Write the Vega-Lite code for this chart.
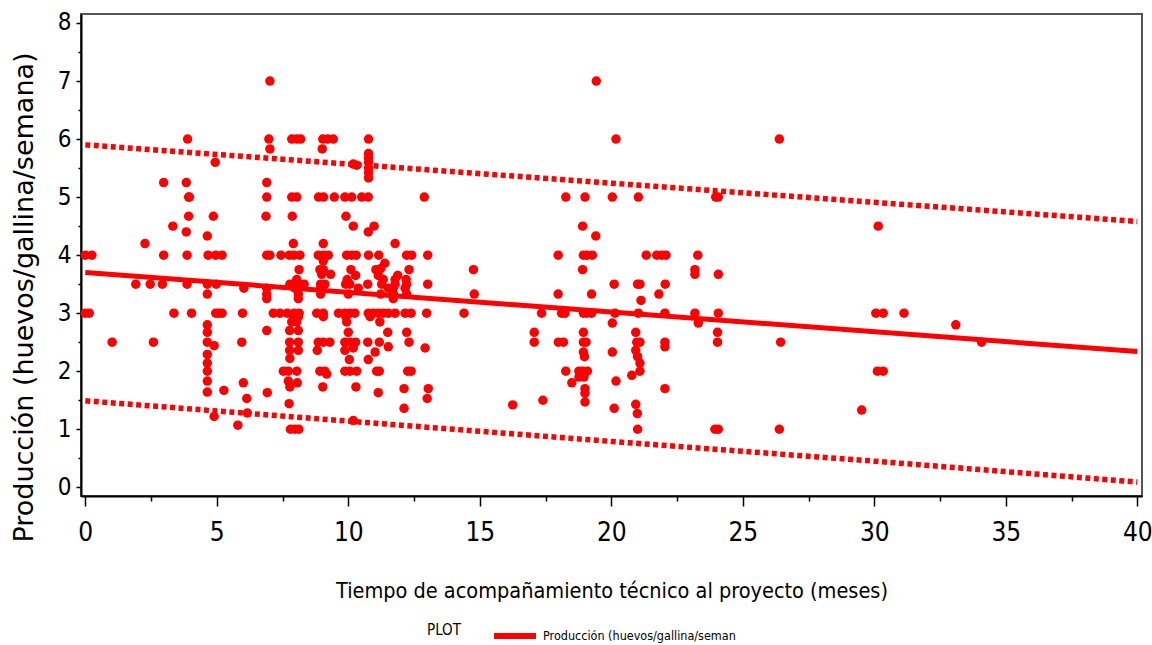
{
  "$schema": "https://vega.github.io/schema/vega-lite/v6.json",
  "autosize": "none",
  "width": 1061,
  "height": 482,
  "padding": {"left": 81, "top": 14, "right": 10, "bottom": 149},
  "background": "white",
  "config": {
    "view": {"stroke": "#555555", "strokeWidth": 2},
    "axis": {"labelColor": "#000", "titleColor": "#000", "tickColor": "#000", "domainColor": "#000", "grid": false}
  },
  "datasets": {
    "pts": [
      {"meses":0,"prod":4},{"meses":0.25,"prod":4},{"meses":0,"prod":3},{"meses":0.15,"prod":3},{"meses":1.02,"prod":2.5},{"meses":1.92,"prod":3.5},{"meses":2.27,"prod":4.2},{"meses":2.47,"prod":3.5},{"meses":2.59,"prod":2.5},{"meses":2.93,"prod":3.5},{"meses":2.98,"prod":5.25},{"meses":2.98,"prod":4},{"meses":3.33,"prod":4.5},{"meses":3.37,"prod":3},{"meses":3.84,"prod":5.25},{"meses":3.89,"prod":6},{"meses":3.93,"prod":5},{"meses":3.96,"prod":5},{"meses":3.93,"prod":4.67},{"meses":3.84,"prod":4.4},{"meses":3.87,"prod":4},{"meses":3.87,"prod":3.5},{"meses":4.04,"prod":3},{"meses":4.64,"prod":4.33},{"meses":4.67,"prod":4},{"meses":4.64,"prod":3.5},{"meses":4.64,"prod":3.33},{"meses":4.64,"prod":2.8},{"meses":4.64,"prod":2.67},{"meses":4.64,"prod":2.5},{"meses":4.64,"prod":2.29},{"meses":4.64,"prod":2.14},{"meses":4.64,"prod":2},{"meses":4.64,"prod":1.83},{"meses":4.64,"prod":1.64},{"meses":4.87,"prod":4.67},{"meses":4.9,"prod":2.44},{"meses":4.9,"prod":1.22},{"meses":4.94,"prod":5.6},{"meses":4.96,"prod":4},{"meses":4.98,"prod":3.5},{"meses":4.96,"prod":3},{"meses":5.07,"prod":3},{"meses":5.2,"prod":4},{"meses":5.2,"prod":3},{"meses":5.27,"prod":1.67},{"meses":5.8,"prod":1.07},
      {"meses":7.02,"prod":7},{"meses":6.98,"prod":6},{"meses":7.85,"prod":6},{"meses":8.04,"prod":6},{"meses":8.19,"prod":6},{"meses":9.03,"prod":6},{"meses":9.22,"prod":6},{"meses":9.43,"prod":6},{"meses":7.02,"prod":5.83},{"meses":9.01,"prod":5.83},{"meses":6.9,"prod":5.25},{"meses":6.9,"prod":5},{"meses":7.85,"prod":5},{"meses":8.04,"prod":5},{"meses":8.87,"prod":5},{"meses":9.06,"prod":5},{"meses":9.47,"prod":5},{"meses":6.87,"prod":4.67},{"meses":7.87,"prod":4.67},{"meses":7.91,"prod":4.2},{"meses":9.05,"prod":4.2},{"meses":6.9,"prod":4},{"meses":7.02,"prod":4},{"meses":7.44,"prod":4},{"meses":7.76,"prod":4},{"meses":7.93,"prod":4},{"meses":8.16,"prod":4},{"meses":8.86,"prod":4},{"meses":9.05,"prod":4},{"meses":9.24,"prod":4},{"meses":9.05,"prod":3.9},{"meses":8.13,"prod":3.75},{"meses":8.92,"prod":3.75},{"meses":9.05,"prod":3.75},{"meses":8.99,"prod":3.67},{"meses":9.33,"prod":3.67},{"meses":8.04,"prod":3.58},{"meses":7.78,"prod":3.5},{"meses":7.97,"prod":3.5},{"meses":8.16,"prod":3.5},{"meses":8.32,"prod":3.5},{"meses":8.95,"prod":3.5},{"meses":9.11,"prod":3.5},{"meses":6.03,"prod":3.43},{"meses":6.9,"prod":3.43},{"meses":7.97,"prod":3.43},{"meses":8.95,"prod":3.43},{"meses":6.9,"prod":3.33},{"meses":8.1,"prod":3.33},{"meses":8.95,"prod":3.33},{"meses":6.9,"prod":3.25},{"meses":8.1,"prod":3.25},{"meses":5.98,"prod":3},{"meses":7.15,"prod":3},{"meses":7.4,"prod":3},{"meses":7.68,"prod":3},{"meses":7.94,"prod":3},{"meses":8.13,"prod":3},{"meses":8.8,"prod":3},{"meses":9.05,"prod":3},{"meses":7.91,"prod":2.94},{"meses":8.1,"prod":2.94},{"meses":9.05,"prod":2.94},{"meses":7.85,"prod":2.85},{"meses":8.04,"prod":2.85},{"meses":6.9,"prod":2.7},{"meses":7.77,"prod":2.7},{"meses":8.1,"prod":2.7},{"meses":5.95,"prod":2.5},{"meses":7.77,"prod":2.5},{"meses":8.1,"prod":2.5},{"meses":8.86,"prod":2.5},{"meses":9.05,"prod":2.5},{"meses":9.3,"prod":2.5},{"meses":7.77,"prod":2.36},{"meses":8.1,"prod":2.36},{"meses":8.82,"prod":2.36},{"meses":7.78,"prod":2.22},{"meses":7.53,"prod":2},{"meses":7.72,"prod":2},{"meses":8.04,"prod":2},{"meses":8.92,"prod":2},{"meses":9.11,"prod":2},{"meses":9.18,"prod":1.95},{"meses":6.01,"prod":1.8},{"meses":7.72,"prod":1.83},{"meses":8.06,"prod":1.8},{"meses":7.78,"prod":1.73},{"meses":9.03,"prod":1.73},{"meses":6.92,"prod":1.63},{"meses":6.14,"prod":1.53},{"meses":7.75,"prod":1.44},{"meses":6.16,"prod":1.28},{"meses":7.8,"prod":1},{"meses":7.97,"prod":1},{"meses":8.12,"prod":1},
      {"meses":10.77,"prod":6},{"meses":10.19,"prod":5.57},{"meses":10.32,"prod":5.55},{"meses":10.77,"prod":5.33},{"meses":10.77,"prod":5.42},{"meses":10.77,"prod":5.5},{"meses":10.77,"prod":5.6},{"meses":10.77,"prod":5.67},{"meses":10.77,"prod":5.75},{"meses":9.87,"prod":5},{"meses":10.13,"prod":5},{"meses":10.51,"prod":5},{"meses":10.76,"prod":5},{"meses":12.89,"prod":5},{"meses":9.91,"prod":4.67},{"meses":10.19,"prod":4.5},{"meses":10.98,"prod":4.5},{"meses":10.76,"prod":4.4},{"meses":11.78,"prod":4.2},{"meses":9.94,"prod":4},{"meses":10.13,"prod":4},{"meses":10.3,"prod":4},{"meses":10.77,"prod":4},{"meses":11.16,"prod":4},{"meses":12.22,"prod":4},{"meses":12.41,"prod":4},{"meses":13.02,"prod":4},{"meses":11.39,"prod":3.86},{"meses":10.1,"prod":3.75},{"meses":11.05,"prod":3.75},{"meses":11.24,"prod":3.77},{"meses":12.31,"prod":3.75},{"meses":10.28,"prod":3.65},{"meses":11.14,"prod":3.65},{"meses":11.88,"prod":3.65},{"meses":9.96,"prod":3.58},{"meses":11.33,"prod":3.58},{"meses":11.78,"prod":3.58},{"meses":12.2,"prod":3.58},{"meses":9.9,"prod":3.5},{"meses":10.06,"prod":3.5},{"meses":10.74,"prod":3.5},{"meses":11.27,"prod":3.5},{"meses":11.78,"prod":3.5},{"meses":12.22,"prod":3.5},{"meses":13.02,"prod":3.5},{"meses":10.38,"prod":3.43},{"meses":11.52,"prod":3.43},{"meses":11.71,"prod":3.43},{"meses":12.16,"prod":3.43},{"meses":10,"prod":3.33},{"meses":11.23,"prod":3.33},{"meses":11.72,"prod":3.33},{"meses":12.22,"prod":3.33},{"meses":11.71,"prod":3.25},{"meses":9.63,"prod":3},{"meses":9.87,"prod":3},{"meses":10.06,"prod":3},{"meses":10.25,"prod":3},{"meses":10.76,"prod":3},{"meses":10.95,"prod":3},{"meses":11.14,"prod":3},{"meses":11.33,"prod":3},{"meses":11.52,"prod":3},{"meses":11.78,"prod":3},{"meses":12.16,"prod":3},{"meses":12.39,"prod":3},{"meses":12.98,"prod":3},{"meses":9.91,"prod":2.94},{"meses":10.83,"prod":2.94},{"meses":9.94,"prod":2.85},{"meses":11.2,"prod":2.85},{"meses":10,"prod":2.67},{"meses":11.5,"prod":2.67},{"meses":12.22,"prod":2.67},{"meses":9.87,"prod":2.5},{"meses":10.06,"prod":2.5},{"meses":10.28,"prod":2.5},{"meses":10.74,"prod":2.5},{"meses":11.18,"prod":2.5},{"meses":12.31,"prod":2.5},{"meses":11.52,"prod":2.42},{"meses":12.92,"prod":2.4},{"meses":9.87,"prod":2.36},{"meses":10.19,"prod":2.4},{"meses":11.02,"prod":2.33},{"meses":10.04,"prod":2.2},{"meses":10.76,"prod":2.2},{"meses":9.87,"prod":2},{"meses":10.06,"prod":2},{"meses":10.32,"prod":2},{"meses":11.08,"prod":2},{"meses":11.18,"prod":2},{"meses":12.26,"prod":2},{"meses":12.39,"prod":2},{"meses":10.29,"prod":1.73},{"meses":12.12,"prod":1.7},{"meses":13.04,"prod":1.7},{"meses":11.14,"prod":1.63},{"meses":13,"prod":1.53},{"meses":12.12,"prod":1.36},{"meses":10.19,"prod":1.15},
      {"meses":14.4,"prod":3},{"meses":14.76,"prod":3.75},{"meses":14.79,"prod":3.33},{"meses":16.25,"prod":1.42},{"meses":17.07,"prod":2.67},{"meses":17.07,"prod":2.5},{"meses":17.35,"prod":3},{"meses":17.4,"prod":1.5},{"meses":17.98,"prod":4},{"meses":17.98,"prod":3.33},{"meses":17.99,"prod":2.5},{"meses":18.18,"prod":2.5},{"meses":18.11,"prod":3},{"meses":18.24,"prod":3},{"meses":18.27,"prod":5},{"meses":18.27,"prod":2},{"meses":18.5,"prod":1.8},{"meses":18.77,"prod":2},{"meses":18.77,"prod":1.9},{"meses":18.91,"prod":4.5},{"meses":18.91,"prod":3.75},{"meses":18.94,"prod":4},{"meses":19.07,"prod":4},{"meses":19.28,"prod":4},{"meses":18.94,"prod":3},{"meses":19.07,"prod":3},{"meses":19.25,"prod":3},{"meses":19.25,"prod":3.33},{"meses":18.94,"prod":2.67},{"meses":18.94,"prod":2.5},{"meses":19.04,"prod":2.5},{"meses":18.94,"prod":2.33},{"meses":18.98,"prod":2.25},{"meses":18.9,"prod":2},{"meses":19.09,"prod":2},{"meses":18.96,"prod":1.9},{"meses":19,"prod":1.7},{"meses":19,"prod":1.62},{"meses":19,"prod":1.47},{"meses":19,"prod":5},{"meses":19.41,"prod":4.33},{"meses":19.43,"prod":7},{"meses":20.04,"prod":5},{"meses":20.11,"prod":3.5},{"meses":20.14,"prod":3},{"meses":20.04,"prod":2.83},{"meses":20.04,"prod":2.33},{"meses":20.18,"prod":1.83},{"meses":20.11,"prod":1.36},{"meses":20.18,"prod":6},{"meses":20.78,"prod":1.93},{"meses":21.03,"prod":5},{"meses":21,"prod":3.5},{"meses":21.09,"prod":3.5},{"meses":21.03,"prod":3},{"meses":20.93,"prod":2.67},{"meses":20.97,"prod":2.5},{"meses":21.09,"prod":2.5},{"meses":20.93,"prod":2.36},{"meses":21,"prod":2.25},{"meses":21.09,"prod":2.14},{"meses":21.09,"prod":2},{"meses":20.93,"prod":1.43},{"meses":20.99,"prod":1.27},{"meses":21,"prod":1},{"meses":21.13,"prod":3.22},{"meses":21.33,"prod":4},{"meses":21.73,"prod":4},{"meses":21.92,"prod":4},{"meses":22.08,"prod":4},{"meses":21.81,"prod":3.33},{"meses":22.05,"prod":3.5},{"meses":22.04,"prod":3},{"meses":22.04,"prod":2.5},{"meses":22.04,"prod":2.42},{"meses":22.04,"prod":1.7},{"meses":23.18,"prod":3.75},{"meses":23.18,"prod":3.67},{"meses":23.29,"prod":4},{"meses":23.18,"prod":3},{"meses":23.31,"prod":2.83},{"meses":23.97,"prod":5},{"meses":24.07,"prod":5},{"meses":24.07,"prod":3.67},{"meses":24.07,"prod":3},{"meses":24.04,"prod":2.67},{"meses":24.04,"prod":2.5},{"meses":23.94,"prod":1},{"meses":24.07,"prod":1},{"meses":26.39,"prod":6},{"meses":26.44,"prod":2.5},{"meses":26.39,"prod":1},{"meses":29.52,"prod":1.33},{"meses":30.15,"prod":4.5},{"meses":30.06,"prod":3},{"meses":30.34,"prod":3},{"meses":31.13,"prod":3},{"meses":30.12,"prod":2},{"meses":30.34,"prod":2},{"meses":33.1,"prod":2.8},{"meses":34.08,"prod":2.5}
    ],
    "ajuste": [
      {"meses":0,"prod":3.70,"serie":"Producción (huevos/gallina/seman"},
      {"meses":40,"prod":2.34,"serie":"Producción (huevos/gallina/seman"}
    ],
    "limites": [
      {"meses":0,"prod":5.90,"limite":"superior"},{"meses":10,"prod":5.57,"limite":"superior"},{"meses":20,"prod":5.24,"limite":"superior"},{"meses":30,"prod":4.91,"limite":"superior"},{"meses":40,"prod":4.58,"limite":"superior"},
      {"meses":0,"prod":1.49,"limite":"inferior"},{"meses":10,"prod":1.14,"limite":"inferior"},{"meses":20,"prod":0.79,"limite":"inferior"},{"meses":30,"prod":0.45,"limite":"inferior"},{"meses":40,"prod":0.09,"limite":"inferior"}
    ]
  },
  "layer": [
    {
      "data": {"name": "limites"},
      "mark": {"type": "line", "color": "#ff0000", "strokeWidth": 5.5, "strokeDash": [5, 3.5], "strokeCap": "butt"},
      "encoding": {
        "x": {"field": "meses", "type": "quantitative", "scale": {"domain": [-0.163, 40.18], "nice": false, "zero": false},
          "axis": {"orient": "bottom", "values": [2.5, 7.5, 12.5, 17.5, 22.5, 27.5, 32.5, 37.5], "labels": false, "domain": false, "tickSize": 5, "tickWidth": 1.5, "title": null}},
        "y": {"field": "prod", "type": "quantitative", "scale": {"domain": [-0.15, 8.155], "nice": false, "zero": false},
          "axis": {"orient": "left", "values": [0.5, 1.5, 2.5, 3.5, 4.5, 5.5, 6.5, 7.5], "labels": false, "domain": false, "tickSize": 3, "tickWidth": 1.5, "title": null}},
        "detail": {"field": "limite", "type": "nominal"}
      }
    },
    {
      "data": {"name": "pts"},
      "mark": {"type": "circle", "color": "#ff0000", "opacity": 1, "size": 90},
      "encoding": {
        "x": {"field": "meses", "type": "quantitative",
          "axis": {"orient": "bottom", "values": [0, 5, 10, 15, 20, 25, 30, 35, 40], "domainWidth": 2, "tickSize": 10, "tickWidth": 1.5,
            "labelFont": "Liberation Sans Narrow, DejaVu Sans Condensed, Liberation Sans, sans-serif", "labelFontSize": 26, "labelPadding": 13, "labelFlush": false,
            "title": "Tiempo de acompañamiento técnico al proyecto (meses)", "titleFont": "Liberation Sans Narrow, DejaVu Sans Condensed, Liberation Sans, sans-serif", "titleFontSize": 21.5, "titleFontWeight": "normal",
            "titleBaseline": "alphabetic", "titleY": 101}},
        "y": {"field": "prod", "type": "quantitative",
          "axis": {"orient": "left", "values": [0, 1, 2, 3, 4, 5, 6, 7, 8], "domainWidth": 2, "tickSize": 5, "tickWidth": 1.5,
            "labelFont": "Liberation Sans Narrow, DejaVu Sans Condensed, Liberation Sans, sans-serif", "labelFontSize": 24, "labelPadding": 5, "labelFlush": false,
            "title": "Producción (huevos/gallina/semana)", "titleFont": "DejaVu Sans", "titleFontSize": 27, "titleFontWeight": "normal",
            "titleAngle": -90, "titleAlign": "center", "titleBaseline": "alphabetic", "titleX": -49, "titleY": 283}}
      }
    },
    {
      "data": {"name": "ajuste"},
      "mark": {"type": "line", "strokeWidth": 5},
      "encoding": {
        "x": {"field": "meses", "type": "quantitative", "axis": null},
        "y": {"field": "prod", "type": "quantitative", "axis": null},
        "color": {"field": "serie", "type": "nominal", "scale": {"range": ["#ff0000"]},
          "legend": {"orient": "none", "legendX": 346, "legendY": 598, "title": "PLOT", "titleOrient": "left",
            "titleFont": "Liberation Sans Narrow, DejaVu Sans Condensed, Liberation Sans, sans-serif", "titleFontSize": 15, "titleFontWeight": "normal", "titleColor": "#000", "titlePadding": 30,
            "labelFont": "Liberation Sans Narrow, DejaVu Sans Condensed, Liberation Sans, sans-serif", "labelFontSize": 12.5, "labelColor": "#000", "labelOffset": 4, "labelLimit": 400,
            "symbolType": "stroke", "symbolSize": 1764, "symbolStrokeWidth": 6}}
      }
    }
  ],
  "resolve": {"axis": {"x": "independent", "y": "independent"}}
}
